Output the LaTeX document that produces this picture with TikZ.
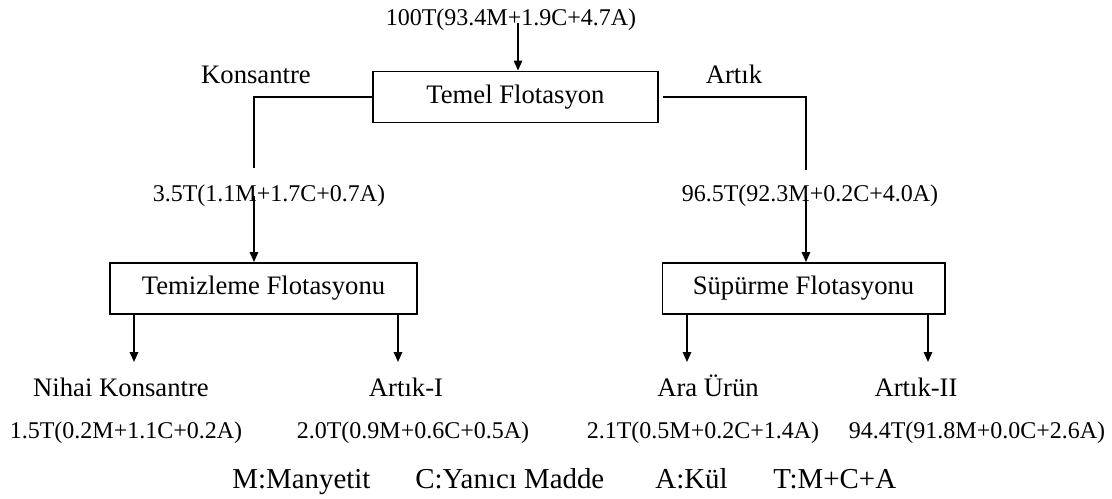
\documentclass[tikz,border=0pt]{standalone}
\usepackage{fontspec}
\setmainfont{Liberation Serif}
\usetikzlibrary{arrows.meta}

\begin{document}
\begin{tikzpicture}[x=0.45pt,y=-0.45pt,
                    stage/.style={draw,line width=0.8pt,minimum height=23pt,font=\fontsize{12}{14}\selectfont},
                    caption/.style={anchor=base,font=\fontsize{12}{14}\selectfont},
                    amount/.style={anchor=base,font=\fontsize{10.8}{13}\selectfont},
                    key/.style={anchor=base west,inner sep=0pt,font=\fontsize{13}{15}\selectfont},
                    pipe/.style={line width=0.8pt},
                    flow/.style={line width=0.8pt,-{Triangle[length=4.5pt,width=3.8pt]}}]
    \useasboundingbox (0,0) rectangle (1112,499);
    % feed and first stage
    \node[amount] (feed) at (511,25) {100T(93.4M+1.9C+4.7A)};
    \node[stage,minimum width=128pt] (temel) at (515.5,97) {Temel Flotasyon};
    \node[caption] (kons) at (256,83) {Konsantre};
    \node[caption] (artik) at (734,83) {Artık};
    \node[amount] (kamount) at (269,201) {3.5T(1.1M+1.7C+0.7A)};
    \node[amount] (aamount) at (810,201) {96.5T(92.3M+0.2C+4.0A)};
    % second stages
    \node[stage,minimum width=138pt] (temiz) at (263.5,288.5) {Temizleme Flotasyonu};
    \node[stage,minimum width=127pt] (supur) at (803.5,288.5) {Süpürme Flotasyonu};
    % products
    \node[caption] (nihai) at (121,396) {Nihai Konsantre};
    \node[caption] (artik1) at (406,396) {Artık-I};
    \node[caption] (ara) at (708,396) {Ara Ürün};
    \node[caption] (artik2) at (916,396) {Artık-II};
    \node[amount] (nihaiamount) at (126,438) {1.5T(0.2M+1.1C+0.2A)};
    \node[amount] (artik1amount) at (413,438) {2.0T(0.9M+0.6C+0.5A)};
    \node[amount] (araamount) at (703,438) {2.1T(0.5M+0.2C+1.4A)};
    \node[amount] (artik2amount) at (977,438) {94.4T(91.8M+0.0C+2.6A)};
    % legend
    \node[key] (keym) at (232,488) {M:Manyetit};
    \node[key] (keyc) at (415,488) {C:Yanıcı Madde};
    \node[key] (keya) at (655,488) {A:Kül};
    \node[key] (keyt) at (773,488) {T:M+C+A};

    \coordinate (feedin) at (518,23);
    \coordinate (kdown) at (254,168);
    \coordinate (kup) at (254,196);
    \coordinate (adown) at (806,170);
    \coordinate (aup) at (806,196);
    \foreach \x/\n in {134/o1,398/o2,687/o3,928/o4}
        \coordinate (\n) at (\x,362);

    \draw[flow] (feedin) -- (feedin |- temel.north);
    \draw[pipe] (temel.west) -| (kdown);
    \draw[flow] (kup) -- (kup |- temiz.north);
    \draw[pipe] ([xshift=2pt]temel.east) -| (adown);
    \draw[flow] (aup) -- (aup |- supur.north);
    \draw[flow] (temiz.south -| o1) -- (o1);
    \draw[flow] (temiz.south -| o2) -- (o2);
    \draw[flow] (supur.south -| o3) -- (o3);
    \draw[flow] (supur.south -| o4) -- (o4);
\end{tikzpicture}
\end{document}
